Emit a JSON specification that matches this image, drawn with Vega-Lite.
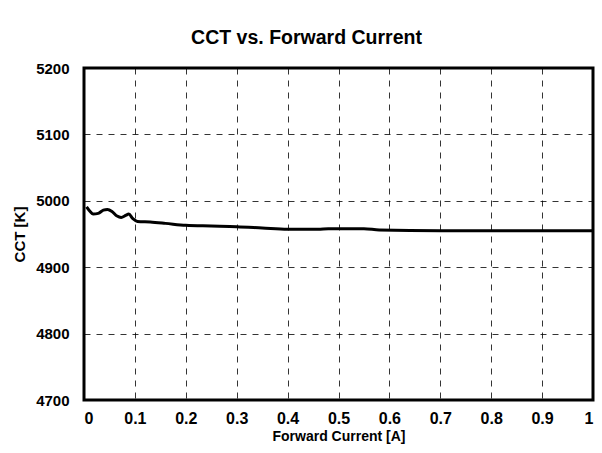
{
  "$schema": "https://vega.github.io/schema/vega-lite/v6.json",
  "width": 509,
  "height": 332,
  "autosize": {"type": "none"},
  "padding": {"left": 84, "top": 68, "right": 9, "bottom": 53},
  "background": "white",
  "title": {
    "text": "CCT vs. Forward Current",
    "font": "Liberation Sans",
    "fontSize": 19.5,
    "fontWeight": "bold",
    "color": "black",
    "anchor": "middle",
    "dx": -32,
    "offset": 13
  },
  "data": {
    "values": [
      {"current": 0.005, "cct": 4991},
      {"current": 0.012, "cct": 4984},
      {"current": 0.018, "cct": 4980},
      {"current": 0.028, "cct": 4981},
      {"current": 0.038, "cct": 4986},
      {"current": 0.046, "cct": 4987},
      {"current": 0.055, "cct": 4984},
      {"current": 0.065, "cct": 4977},
      {"current": 0.073, "cct": 4975},
      {"current": 0.082, "cct": 4978},
      {"current": 0.088, "cct": 4980},
      {"current": 0.096, "cct": 4973},
      {"current": 0.105, "cct": 4969},
      {"current": 0.13, "cct": 4968},
      {"current": 0.16, "cct": 4966},
      {"current": 0.2, "cct": 4963},
      {"current": 0.25, "cct": 4962},
      {"current": 0.3, "cct": 4961},
      {"current": 0.35, "cct": 4959},
      {"current": 0.4, "cct": 4957},
      {"current": 0.46, "cct": 4957},
      {"current": 0.48, "cct": 4958},
      {"current": 0.55, "cct": 4958},
      {"current": 0.58, "cct": 4956},
      {"current": 0.7, "cct": 4955},
      {"current": 0.8, "cct": 4955},
      {"current": 0.9, "cct": 4955},
      {"current": 1.0, "cct": 4955}
    ]
  },
  "mark": {"type": "line", "color": "black", "strokeWidth": 3, "interpolate": "monotone", "clip": true},
  "encoding": {
    "x": {
      "field": "current",
      "type": "quantitative",
      "title": "Forward Current [A]",
      "scale": {"domain": [0, 1], "nice": false, "zero": false},
      "axis": {"values": [0, 0.1, 0.2, 0.3, 0.4, 0.5, 0.6, 0.7, 0.8, 0.9, 1], "format": "~g", "labelPadding": 10, "titlePadding": 3, "labelFontSize": 16, "titleFontSize": 14}
    },
    "y": {
      "field": "cct",
      "type": "quantitative",
      "title": "CCT [K]",
      "scale": {"domain": [4700, 5200], "nice": false, "zero": false},
      "axis": {"values": [4700, 4800, 4900, 5000, 5100, 5200], "format": "d", "labelPadding": 15, "titlePadding": 8, "labelFontSize": 15, "titleFontSize": 15}
    }
  },
  "config": {
    "view": {"stroke": "black", "strokeWidth": 3},
    "axis": {
      "domain": false,
      "ticks": false,
      "grid": true,
      "gridColor": "black",
      "gridDash": [6, 6],
      "gridWidth": 0.8,
      "gridOpacity": 1,
      "labelFont": "Liberation Sans",
      "labelFontWeight": "bold",
      "labelColor": "black",
      "titleFont": "Liberation Sans",
      "titleFontWeight": "bold",
      "titleColor": "black"
    }
  }
}
